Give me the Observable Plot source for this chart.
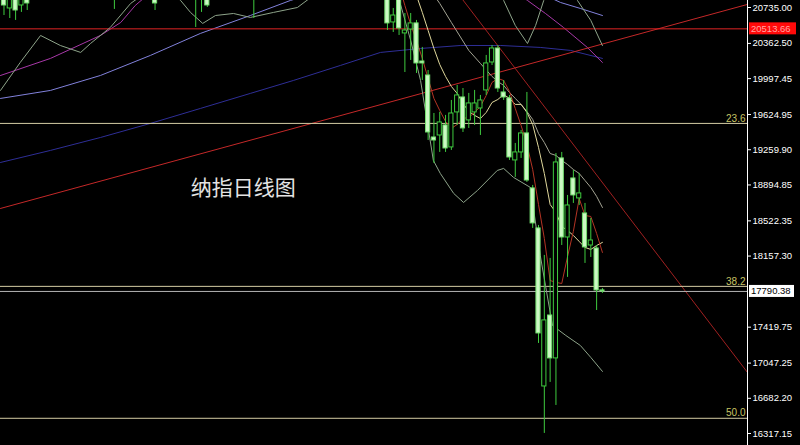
<!DOCTYPE html>
<html><head><meta charset="utf-8">
<script src="https://cdn.jsdelivr.net/npm/d3@7"></script>
<script src="https://cdn.jsdelivr.net/npm/@observablehq/plot@0.6"></script>
<style>html,body{margin:0;padding:0;background:#000;overflow:hidden}</style>
</head><body><div id="chart"></div>
<script>
// ---- data (bar index, prices) ----
const bars   = [0,1,2,3,4,19,26,33,34,35,43,
  66,67,68,69,70,71,72,73,74,75,76,77,78,79,80,81,82,83,84,85,86,87,88,89,90,91,92,93,94,95,96,97,98,99,100,101,102,103];
const opens  = [20912,20725,20860,20756,20860,21119,21015,20964,21015,20860,21119,
  21067,20580,20912,20466,20507,20570,20175,20030,19387,19408,19512,19284,19647,19802,19564,19647,19688,19875,20165,20310,19854,19792,19149,19232,19429,18859,18444,16805,17541,17096,19170,18350,18962,18755,18599,18267,18236,17801];
const highs  = [21015,21015,20964,21015,20964,21171,21119,21067,21119,20912,21171,
  21171,20725,20964,20673,20673,20601,20321,20082,19636,19647,19616,19771,19927,19895,19844,19875,19823,20238,20341,20341,19978,19823,19325,19460,19854,18890,18475,18164,18133,19221,19232,18786,19045,19014,18703,18547,18267,17821];
const lows   = [20652,20621,20601,20684,20704,20715,20704,20528,20684,20735,20621,
  20497,20476,20445,20061,20186,20051,19978,19356,19118,19232,19232,19253,19512,19439,19481,19512,19408,19823,20134,19854,19771,19149,18973,19170,18921,18444,17251,16318,16847,16608,18267,17936,18703,18682,18081,18143,17593,17770];
const closes = [20756,20912,20704,20891,20777,20912,20777,20860,20912,20756,20964,
  20570,20652,20518,20497,20570,20155,20155,19439,19356,19543,19273,19636,19823,19481,19740,19740,19771,20155,20310,19895,19802,19180,19232,19429,18941,18496,17355,17490,17096,19128,18350,18682,18786,18807,18247,18319,17801,17790.38];

const ma5 = [[67,21119],[68,20964],[69,20756],[70,20559],[71,20393],[72,20207],[73,19999],[74,19792],[75,19667],[76,19553],[77,19481],[78,19522],[79,19584],[80,19595],[81,19647],[82,19709],[83,19823],[84,19958],[85,19999],[86,19978],[87,19864],[88,19688],[89,19512],[90,19315],[91,19055],[92,18692],[93,18340],[94,17904],[95,17884],[96,17873],[97,18153],[98,18413],[99,18755],[100,18578],[101,18568],[102,18392],[103,18195]];
const ma10 = [[70,21067],[71,20860],[72,20684],[73,20497],[74,20310],[75,20144],[76,20020],[77,19916],[78,19844],[79,19740],[80,19657],[81,19616],[82,19584],[83,19647],[84,19750],[85,19781],[86,19833],[87,19792],[88,19730],[89,19730],[90,19647],[91,19522],[92,19284],[93,19014],[94,18692],[95,18610],[96,18464],[97,18423],[98,18371],[99,18309],[100,18247],[101,18226],[102,18267],[103,18299]];
const ma20 = [[72,21036],[75,20777],[77,20580],[80,20290],[82,20155],[84,20020],[85,19968],[86,19927],[87,19854],[88,19792],[89,19730],[90,19657],[91,19574],[92,19429],[93,19335],[94,19221],[95,19201],[96,19149],[97,19107],[98,19055],[99,19014],[100,18941],[101,18869],[102,18776],[103,18661]];
const bollUpper = [[83.7,21015],[86,20808],[88,20549],[90.1,20362],[91.5,20549],[92.9,20808],[95,21015],[97.5,20912],[98.7,20808],[101,20601],[103,20341]];
const bollLower = [[-0.6,19875],[2.8,20165],[6.3,20445],[9.7,20341],[13.2,20269],[14.9,20362],[18.3,20528],[21.8,20777],[24.4,20891],[28.7,20891],[30.4,20808],[32.1,20684],[34.2,20570],[36.4,20652],[39.5,20673],[42.4,20632],[46.4,20684],[50.5,20735],[52.8,20839],[59.6,21015],[66.5,20912],[68.3,20756],[70,20393],[71.7,19978],[73.9,19149],[75.1,19014],[77.4,18807],[79.1,18713],[81.5,18838],[84.9,19045],[86,19066],[87.7,18973],[90.6,18869],[92.3,18164],[93.2,17853],[94.4,17438],[96.7,17334],[99.2,17230],[101,17106],[103,16961]];
const maMagenta = [[-0.6,20030],[8,20207],[16.6,20445],[20.1,20580],[22.6,20756],[25.2,20891],[51,21223],[76.9,21223],[87.2,20932],[90.1,20808],[93.2,20673],[96.3,20528],[100.4,20321],[103,20165]];
const maLavender = [[-0.6,19792],[8,19875],[16.6,20030],[25.2,20238],[33.8,20466],[42.4,20652],[49.3,20808],[56.2,20932],[68.2,21067],[82,21067],[90.6,20932],[95.8,20787],[99.2,20725],[103,20652]];
const maNavy = [[-0.6,19128],[8,19253],[16.6,19387],[25.2,19533],[33.8,19688],[42.4,19844],[49.8,19978],[57.9,20134],[64.8,20269],[71.7,20310],[78.6,20341],[85.5,20341],[92.3,20321],[97.5,20290],[103,20207]];

const trendUp   = [[-0.6,18651],[127.97,20767]];
const trendDown = [[73.4,21254],[127.97,16950]];

const redLevel = 20513.66;
const lastPrice = 17790.38;
const fibLabels = ["23.6","38.2","50.0"];
const fibValues = [19533,17843,16475];
const yTicks = [20735.00,20362.50,19997.45,19624.95,19259.90,18894.85,18522.35,18157.30,17419.75,17047.25,16682.20,16317.15];
const titleText = ["纳指日线图"];
const titlePos = [[41.2,18858]];

// ---- build ----
const candles = bars.map((b,i)=>({i:b,o:opens[i],h:highs[i],l:lows[i],c:closes[i]}));
const bear = candles.filter(d=>d.c<d.o);
const bull = candles.filter(d=>d.c>=d.o);
const fibs = fibLabels.map((t,i)=>({t,v:fibValues[i]}));
const xMax = 127.97;
const lineOpts = (stroke)=>({x:d=>d[0], y:d=>d[1], stroke, strokeWidth:1, clip:true});

const chart = Plot.plot({
  width:800, height:445,
  marginLeft:0, marginRight:53, marginTop:0, marginBottom:0,
  x:{domain:[-0.6,xMax], axis:null},
  y:{domain:[16192.8,20807.6]},
  style:{background:"#000", color:"#fff", fontFamily:"Liberation Sans, Arial, sans-serif", fontSize:"9.5px"},
  marks:[
    Plot.line(maNavy, lineOpts("#2e2e96")),
    Plot.line(maLavender, lineOpts("#8282dc")),
    Plot.line(maMagenta, lineOpts("#a838a8")),
    Plot.line(trendUp, lineOpts("#c42828")),
    Plot.line(trendDown, lineOpts("#a02020")),
    Plot.ruleY([redLevel], {stroke:"#e02424", strokeWidth:1}),
    Plot.ruleY(fibs, {y:"v", stroke:"#d4cca4", strokeWidth:1}),
    Plot.ruleY([lastPrice], {stroke:"#b4b4b4", strokeWidth:1}),
    Plot.line(bollLower, lineOpts("#8ea48a")),
    Plot.line(bollUpper, lineOpts("#8ea48a")),
    Plot.line(ma20, lineOpts("#a4a494")),
    Plot.line(ma10, lineOpts("#e0d89c")),
    Plot.line(ma5, lineOpts("#b43424")),
    Plot.ruleX(candles, {x:"i", y1:"l", y2:"h", stroke:"#3fcb3f", strokeWidth:1, clip:true}),
    Plot.rect(bull, {x1:d=>d.i-0.36, x2:d=>d.i+0.36, y1:"o", y2:"c", fill:"#000", stroke:"#3fcb3f", strokeWidth:1, clip:true}),
    Plot.rect(bear, {x1:d=>d.i-0.36, x2:d=>d.i+0.36, y1:"o", y2:"c", fill:"#ccf8c4", stroke:"#74e070", strokeWidth:1, clip:true}),
    Plot.text(fibs, {x:xMax, y:"v", text:"t", textAnchor:"end", dx:-2, dy:-5, fill:"#c8c464", fontSize:10}),
    Plot.text(titlePos, {x:d=>d[0], y:d=>d[1], text:(d,i)=>titleText[i], fill:"#e4e4e4", fontSize:21, fontFamily:"Noto Sans CJK SC"}),
    Plot.ruleX([xMax], {stroke:"#fff", strokeWidth:1}),
    Plot.axisY(yTicks, {anchor:"right", tickFormat:d=>d.toFixed(2), tickSize:3, tickPadding:2, stroke:"#fff", fill:"#fff", fontSize:9.5, label:null})
  ]
});
document.getElementById("chart").appendChild(chart);

// price tags on the axis, positioned through Plot's y scale
const ys = chart.scale("y");
const svg = d3.select(chart);
const bx = 800 - 53 + 2;
[{v:redLevel, bg:"#ff0a0a", fg:"#ffa4a4", w:47},{v:lastPrice, bg:"#ffffff", fg:"#000000", w:45}].forEach(t=>{
  const py = ys.apply(t.v);
  svg.append("rect").attr("x",bx).attr("y",py-6).attr("width",t.w).attr("height",12).attr("fill",t.bg);
  svg.append("text").attr("x",bx+2).attr("y",py).attr("dy","0.35em").attr("fill",t.fg)
    .attr("text-anchor","start").attr("font-size",9.5)
    .attr("font-family","Liberation Sans, Arial, sans-serif").text(t.v.toFixed(2));
});
</script></body></html>
